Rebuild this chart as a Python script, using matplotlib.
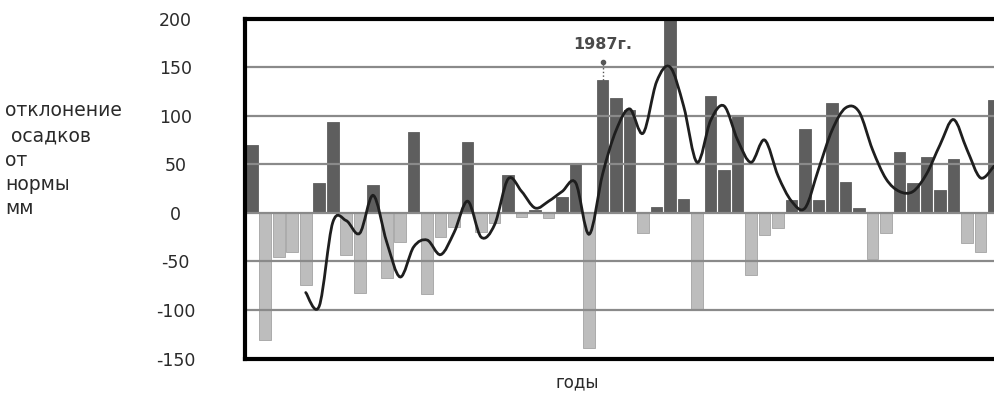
import matplotlib.pyplot as plt
from matplotlib.path import Path
from matplotlib.patches import PathPatch

plt.rcParams['font.family'] = ['DejaVu Sans']
plt.rcParams['axes.unicode_minus'] = False

# годы 1961-2016
years = list(range(1961, 2017))
# отклонение осадков от нормы, мм
deviation = [70, -131, -45, -40, -74, 31, 94, -43, -82, 29,
             -67, -30, 83, -83, -25, -15, 73, -20, -10, 39,
             -4, 3, -5, 16, 50, -139, 137, 118, 106, -21,
             6, 215, 14, -100, 120, 44, 100, -64, -23, -16,
             13, 86, 13, 113, 32, 5, -47, -21, 63, 31,
             58, 24, 55, -31, -40, 116]
# сглаженная кривая (с 1965 г.)
trend_start = 1965
trend = [-82, -96, -10, -8, -21, 18, -30, -66, -35, -28,
         -43, -20, 12, -25, -12, 35, 22, 5, 12, 22,
         31, -22, 40, 85, 107, 82, 135, 150, 110, 52,
         95, 110, 75, 52, 75, 38, 12, 5, 45, 85,
         108, 104, 65, 35, 22, 22, 40, 70, 96, 65,
         36, 48]
yticks = [-150, -100, -50, 0, 50, 100, 150, 200]
ylabel_lines = ['отклонение', ' осадков', 'от', 'нормы', 'мм']

fig = plt.figure(figsize=(9.94, 3.94), dpi=100, facecolor='white')
ax = fig.add_axes([245 / 994, 0.0898, 1 - 245 / 994, 0.8632])

x = list(range(len(years)))
colors = ['#5e5e5e' if v > 0 else '#bdbdbd' for v in deviation]
edges = ['#5e5e5e' if v > 0 else '#a3a3a3' for v in deviation]
ax.bar(x, deviation, width=0.86, color=colors, edgecolor=edges, linewidth=0.6, zorder=1)

for t in yticks[1:-1]:
    ax.axhline(t, color='#8a8a8a', lw=1.6, zorder=2)

# smoothed line (Catmull-Rom drawn as bezier, like the spreadsheet "smooth line")
tx = [years.index(trend_start) + i for i in range(len(trend))]
pts = list(zip(tx, trend))
verts = [pts[0]]
codes = [Path.MOVETO]
for i in range(len(pts) - 1):
    p0 = pts[i - 1] if i > 0 else pts[i]
    p1, p2 = pts[i], pts[i + 1]
    p3 = pts[i + 2] if i + 2 < len(pts) else p2
    c1 = (p1[0] + (p2[0] - p0[0]) / 6, p1[1] + (p2[1] - p0[1]) / 6)
    c2 = (p2[0] - (p3[0] - p1[0]) / 6, p2[1] - (p3[1] - p1[1]) / 6)
    verts += [c1, c2, p2]
    codes += [Path.CURVE4] * 3
ax.add_patch(PathPatch(Path(verts, codes), facecolor='none', edgecolor='#1e1e1e',
                       lw=2.0, zorder=3, capstyle='round'))

# 1987 marker
i87 = years.index(1987)
ax.plot([i87, i87], [deviation[i87], 155], color='#555555', lw=1, ls=':', zorder=4)
ax.plot([i87], [155], marker='o', ms=3, color='#555555', zorder=4)
ax.text(i87, 166, '1987г.', ha='center', va='bottom', fontsize=11.5,
        fontweight='bold', color='#4a4a4a')

ax.set_xlim(-0.5, 55.0)
ax.set_ylim(-150, 200)
ax.set_xticks([])
ax.set_yticks(yticks)
ax.tick_params(axis='y', length=0, pad=50, labelsize=12.5, labelcolor='#2a2a2a')
for lab in ax.get_yticklabels():
    lab.set_horizontalalignment('center')

for s in ['left', 'top', 'bottom']:
    ax.spines[s].set_linewidth(3)
    ax.spines[s].set_color('black')
ax.spines['right'].set_visible(False)

for k, line in enumerate(ylabel_lines):
    fig.text(5 / 994, 1 - (111 + 24.5 * k) / 394, line, ha='left', va='center',
             fontsize=13.5, color='#2a2a2a')
fig.text(577 / 994, 1 - 382 / 394, 'годы', ha='center', va='center', fontsize=12, color='#2a2a2a')

plt.savefig('out.png', dpi=100, facecolor='white')
plt.close()
